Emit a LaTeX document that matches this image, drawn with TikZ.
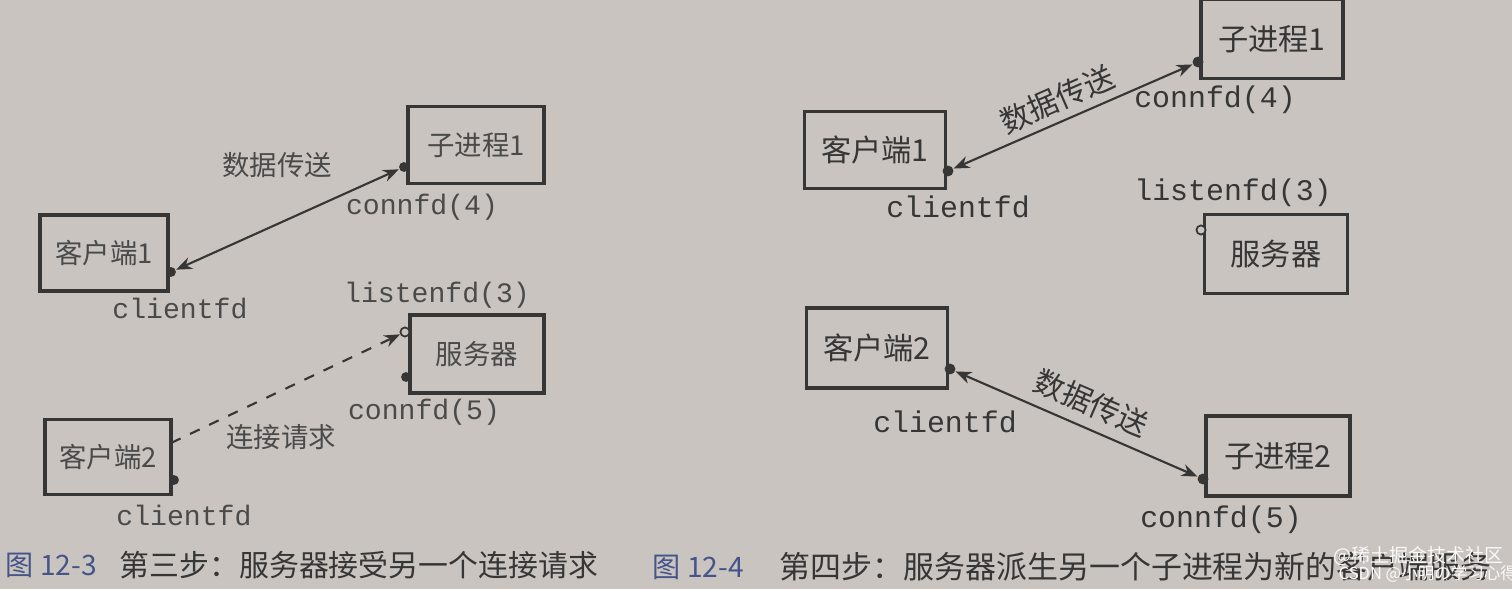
\documentclass[tikz,border=0pt]{standalone}
\usepackage{fontspec}
\setmainfont{Liberation Serif}
\setmonofont{Liberation Mono}
\newfontfamily\cjk{Noto Sans CJK SC}
\usetikzlibrary{arrows.meta,positioning,calc}
\definecolor{Paper}{HTML}{C9C4BF}
\definecolor{Ink}{HTML}{363636}
\definecolor{Soft}{HTML}{4A4A4A}
\definecolor{Fig}{HTML}{44558A}

\begin{document}
\begin{tikzpicture}[x=0.01cm, y=-0.01cm,
    box/.style={draw=Ink, line width=0.9pt, inner sep=0pt, minimum width=1.36cm, minimum height=0.77cm, font=\cjk\fontsize{7.8}{8}\selectfont, text=Soft},
    bigbox/.style={box, minimum width=1.42cm, minimum height=0.79cm, font=\cjk\fontsize{8.6}{9}\selectfont, text=Ink},
    fd/.style={font=\ttfamily\fontsize{8}{8}\selectfont, text=Soft, inner sep=0pt},
    bigfd/.style={fd, font=\ttfamily\fontsize{8.5}{9}\selectfont, text=Ink},
    lab/.style={font=\cjk\fontsize{7.8}{8}\selectfont, text=Soft},
    dot/.style={circle, fill=Ink, inner sep=0pt, minimum size=2.8pt},
    hole/.style={circle, draw=Ink, fill=Paper, line width=0.5pt, inner sep=0pt, minimum size=2.6pt},
    link/.style={Ink, line width=0.6pt, {Stealth[length=4.5pt,width=3.5pt]}-{Stealth[length=4.5pt,width=3.5pt]}},
    caption/.style={font=\cjk\fontsize{8.5}{9}\selectfont, text=Ink, anchor=west, inner sep=0pt}]
  \clip (0,0) rectangle (1512,589);
  \fill[Paper] (0,0) rectangle (1512,589);

  % step three
  \node[box] (kidA) at (476,145) {子进程1};
  \node[box, minimum width=1.28cm, minimum height=0.76cm] (cliA) at (104,253) {客户端1};
  \node[box, minimum width=1.34cm, minimum height=0.78cm] (srvA) at (477,354) {服务器};
  \node[box, minimum width=1.26cm, minimum height=0.75cm] (cliB) at (108,457) {客户端2};

  \node[dot] (kidAfd) at (404,167) {};
  \node[dot] (cliAfd) at (171,272) {};
  \node[hole] (srvAls) at (405,332) {};
  \node[dot] (srvAfd) at (406,377) {};
  \node[dot] (cliBfd) at (174,480) {};
  \coordinate (cliBout) at (171,443);

  \draw[link] (cliAfd) -- (kidAfd);
  \draw[Ink, line width=0.6pt, dashed, -{Stealth[length=4.5pt,width=3.5pt]}] (cliBout) -- (srvAls);

  \node[lab] (dataA) at (277,165) {数据传送};
  \node[lab] (reqB) at (281,437) {连接请求};
  \node[fd] at (422,207) {connfd(4)};
  \node[fd] at (180,308) {clientfd};
  \node[fd] at (437,295) {listenfd(3)};
  \node[fd] at (424,412) {connfd(5)};
  \node[fd] at (184,515) {clientfd};

  \node[caption, text=Fig, font=\cjk\fontsize{8}{9}\selectfont] at (5,565) {图 12-3};
  \node[caption] at (119,565) {第三步：服务器接受另一个连接请求};

  % step four
  \node[bigbox] (kidC) at (1272,39) {子进程1};
  \node[bigbox, minimum width=1.41cm, minimum height=0.77cm] (cliC) at (875,150) {客户端1};
  \node[bigbox, minimum width=1.43cm] (srvC) at (1276,254) {服务器};
  \node[bigbox, minimum width=1.41cm, minimum height=0.8cm] (cliD) at (877,348) {客户端2};
  \node[bigbox, minimum width=1.44cm, minimum height=0.8cm] (kidD) at (1278,456) {子进程2};

  \node[dot, minimum size=3.1pt] (kidCfd) at (1198,62) {};
  \node[dot, minimum size=3.1pt] (cliCfd) at (948,171) {};
  \node[hole] (srvCls) at (1201,230) {};
  \node[dot, minimum size=3.1pt] (cliDfd) at (950,369) {};
  \node[dot, minimum size=3.1pt] (kidDfd) at (1203,479) {};

  \draw[link] (cliCfd) -- node[pos=0.47, sloped, above, lab, text=Ink, font=\cjk\fontsize{8.6}{9}\selectfont, inner sep=2pt] {数据传送} (kidCfd);
  \draw[link] (cliDfd) -- node[pos=0.52, sloped, above, lab, text=Ink, font=\cjk\fontsize{8.6}{9}\selectfont, inner sep=3pt] {数据传送} (kidDfd);

  \node[bigfd] at (1215,100) {connfd(4)};
  \node[bigfd] at (958,207) {clientfd};
  \node[bigfd] at (1233,193) {listenfd(3)};
  \node[bigfd] at (945,422) {clientfd};
  \node[bigfd] at (1221,520) {connfd(5)};

  \node[caption, text=Fig, font=\cjk\fontsize{8}{9}\selectfont] at (652,567) {图 12-4};
  \node[caption, font=\cjk\fontsize{8.8}{9}\selectfont] at (779,567) {第四步：服务器派生另一个子进程为新的客户端服务};

  % watermark
  \node[font=\cjk\fontsize{5.4}{6}\selectfont, text=white!92!Paper, anchor=west, inner sep=0pt] at (1333,556) {@稀土掘金技术社区};
  \node[font=\cjk\fontsize{4.7}{5}\selectfont, text=white!92!Paper, anchor=west, inner sep=0pt] at (1338,574) {CSDN @小明の学习心得};
\end{tikzpicture}
\end{document}
